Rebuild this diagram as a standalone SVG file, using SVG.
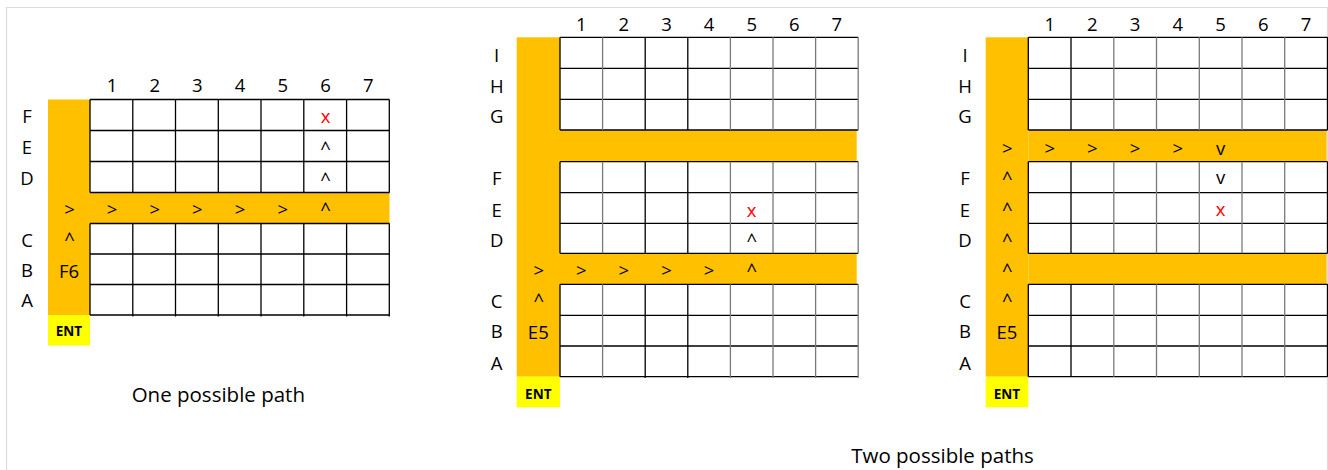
<svg xmlns="http://www.w3.org/2000/svg" width="1328" height="470" viewBox="0 0 1328 470">
<style>
.bg{fill:#fff}
.frame{fill:none;stroke:#dcdcdc;stroke-width:1.2}
.path{fill:#FFC000}
.ent{fill:#FFFF00}
.k{fill:none;stroke:#000;stroke-width:1.3}
.g{fill:none;stroke:#7a7a7a;stroke-width:1.3}
text{font-family:"Open Sans","Liberation Sans",sans-serif;font-size:18.5px;fill:#000;text-anchor:middle}
.r{fill:#FF0000}
.et{font-weight:700;font-size:13.5px}
.cap{font-size:20.5px}
</style>
<rect class="bg" x="0" y="0" width="1328" height="470"/>
<path class="frame" d="M6.5 470V7.5H1327.5V470"/>

<g id="panel-one">
  <rect class="path" x="48" y="99.5" width="42" height="215.5"/>
  <rect class="path" x="90" y="192.5" width="299.5" height="31"/>
  <rect class="ent" x="48" y="315" width="42" height="30.5"/>
  <path class="k" d="M90 99.5H389.5M90 130.5H389.5M90 161.5H389.5M90 192.5H389.5M90 223.5H389.5M90 254H389.5M90 284.5H389.5M90 315H389.5"/>
  <path class="k" d="M90 99.5V192.5M132.8 99.5V192.5M175.5 99.5V192.5M218.3 99.5V192.5M261 99.5V192.5M303.8 99.5V192.5M346.6 99.5V192.5M389.3 99.5V192.5M90 223.5V315M132.8 223.5V316.5M175.5 223.5V316.5M218.3 223.5V316.5M261 223.5V316.5M303.8 223.5V316.5M346.6 223.5V316.5M389.3 223.5V316.5"/>
  <g id="one-cols">
    <text x="112" y="91.5">1</text><text x="154.7" y="91.5">2</text><text x="197.4" y="91.5">3</text><text x="240.1" y="91.5">4</text><text x="282.8" y="91.5">5</text><text x="325.5" y="91.5">6</text><text x="368.2" y="91.5">7</text>
  </g>
  <g id="one-rows">
    <text x="27" y="123.3">F</text><text x="27" y="153.6">E</text><text x="27" y="185">D</text><text x="27" y="246.6">C</text><text x="27" y="276.6">B</text><text x="27" y="306.6">A</text>
  </g>
  <g id="one-route">
    <text x="69.5" y="216.3">&gt;</text><text x="112" y="216.3">&gt;</text><text x="154.7" y="216.3">&gt;</text><text x="197.4" y="216.3">&gt;</text><text x="240.1" y="216.3">&gt;</text><text x="282.8" y="216.3">&gt;</text><text x="325.5" y="216.3">^</text>
    <text x="325.5" y="186.3">^</text><text x="325.5" y="154.6">^</text><text class="r" x="325.5" y="123.3">x</text>
    <text x="69.5" y="246.3">^</text><text x="69" y="278.3">F6</text>
    <text class="et" x="69" y="336.3">ENT</text>
  </g>
  <text class="cap" x="218.3" y="401.7">One possible path</text>
</g>

<g id="panel-two-a">
  <rect class="path" x="516.7" y="37.3" width="43.3" height="339.4"/>
  <rect class="path" x="560" y="130" width="296.7" height="31.7"/>
  <rect class="path" x="560" y="253.3" width="296.7" height="31"/>
  <rect class="ent" x="516.7" y="376.7" width="43.3" height="30.6"/>
  <path class="k" d="M560 37.3H858.2M560 68.3H858.2M560 99.3H858.2M560 130H858.2M560 161.7H858.2M560 192.7H858.2M560 223.3H858.2M560 253.3H858.2M560 284.3H858.2M560 315.3H858.2M560 346H858.2M560 376.7H858.2"/>
  <path class="k" d="M560 37.3V130M560 161.7V253.3M560 284.3V376.7M645.2 37.3V130M645.2 161.7V253.3M645.2 284.3V378M687.8 37.3V130M687.8 161.7V253.3M687.8 284.3V378"/>
  <path class="g" d="M602.6 37.3V130M602.6 161.7V253.3M602.6 284.3V378M730.4 37.3V130M730.4 161.7V253.3M730.4 284.3V378M773 37.3V130M773 161.7V253.3M773 284.3V378M815.6 37.3V130M815.6 161.7V253.3M815.6 284.3V378M858.2 37.3V130M858.2 161.7V253.3M858.2 284.3V378"/>
  <g id="two-a-cols">
    <text x="581.3" y="30.5">1</text><text x="623.9" y="30.5">2</text><text x="666.5" y="30.5">3</text><text x="709.1" y="30.5">4</text><text x="751.7" y="30.5">5</text><text x="794.3" y="30.5">6</text><text x="836.9" y="30.5">7</text>
  </g>
  <g id="two-a-rows">
    <text x="496.7" y="62">I</text><text x="496.7" y="93">H</text><text x="496.7" y="123.3">G</text><text x="496.7" y="185">F</text><text x="496.7" y="216.5">E</text><text x="496.7" y="246.6">D</text><text x="496.7" y="308">C</text><text x="496.7" y="338.3">B</text><text x="496.7" y="369.8">A</text>
  </g>
  <g id="two-a-route">
    <text x="538.8" y="277">&gt;</text><text x="581.3" y="277">&gt;</text><text x="623.9" y="277">&gt;</text><text x="666.5" y="277">&gt;</text><text x="709.1" y="277">&gt;</text><text x="751.7" y="277">^</text>
    <text x="751.7" y="246.6">^</text><text class="r" x="751.7" y="216.6">x</text>
    <text x="538.8" y="307.3">^</text><text x="538.3" y="339.3">E5</text>
    <text class="et" x="538.3" y="398.5">ENT</text>
  </g>
</g>

<g id="panel-two-b">
  <rect class="path" x="985.7" y="37.3" width="42.6" height="339.4"/>
  <rect class="path" x="1028.3" y="130" width="298.4" height="31.7"/>
  <rect class="path" x="1028.3" y="253.3" width="298.4" height="31"/>
  <rect class="ent" x="985.7" y="376.7" width="42.6" height="30.6"/>
  <path class="k" d="M1028.3 37.3H1327.5M1028.3 68.3H1327.5M1028.3 99.3H1327.5M1028.3 130H1327.5M1028.3 161.7H1327.5M1028.3 192.7H1327.5M1028.3 223.3H1327.5M1028.3 253.3H1327.5M1028.3 284.3H1327.5M1028.3 315.3H1327.5M1028.3 346H1327.5M1028.3 376.7H1327.5"/>
  <path class="k" d="M1028.3 37.3V130M1028.3 161.7V253.3M1028.3 284.3V376.7M1071 37.3V130M1071 161.7V253.3M1071 284.3V376.7M1327.5 37.3V130M1327.5 161.7V253.3M1327.5 284.3V376.7"/>
  <path class="g" d="M1113.8 37.3V130M1113.8 161.7V253.3M1113.8 284.3V376.7M1156.5 37.3V130M1156.5 161.7V253.3M1156.5 284.3V376.7M1199.3 37.3V130M1199.3 161.7V253.3M1199.3 284.3V376.7M1242 37.3V130M1242 161.7V253.3M1242 284.3V376.7M1284.7 37.3V130M1284.7 161.7V253.3M1284.7 284.3V376.7"/>
  <g id="two-b-cols">
    <text x="1049.7" y="30.5">1</text><text x="1092.4" y="30.5">2</text><text x="1135.1" y="30.5">3</text><text x="1177.9" y="30.5">4</text><text x="1220.6" y="30.5">5</text><text x="1263.4" y="30.5">6</text><text x="1306.1" y="30.5">7</text>
  </g>
  <g id="two-b-rows">
    <text x="965" y="62">I</text><text x="965" y="93">H</text><text x="965" y="123.3">G</text><text x="965" y="185">F</text><text x="965" y="216.5">E</text><text x="965" y="246.6">D</text><text x="965" y="308">C</text><text x="965" y="338.3">B</text><text x="965" y="369.8">A</text>
  </g>
  <g id="two-b-route">
    <text x="1007.3" y="155">&gt;</text><text x="1049.7" y="155">&gt;</text><text x="1092.4" y="155">&gt;</text><text x="1135.1" y="155">&gt;</text><text x="1177.9" y="155">&gt;</text><text x="1220.6" y="154.5">v</text>
    <text x="1220.6" y="184">v</text><text class="r" x="1220.6" y="216">x</text>
    <text x="1007.3" y="184.6">^</text><text x="1007.3" y="216.3">^</text><text x="1007.3" y="246.6">^</text><text x="1007.3" y="276.6">^</text><text x="1007.3" y="307.3">^</text>
    <text x="1007" y="339.3">E5</text>
    <text class="et" x="1007" y="398.5">ENT</text>
  </g>
</g>

<text class="cap" x="942.5" y="463.3">Two possible paths</text>
</svg>
